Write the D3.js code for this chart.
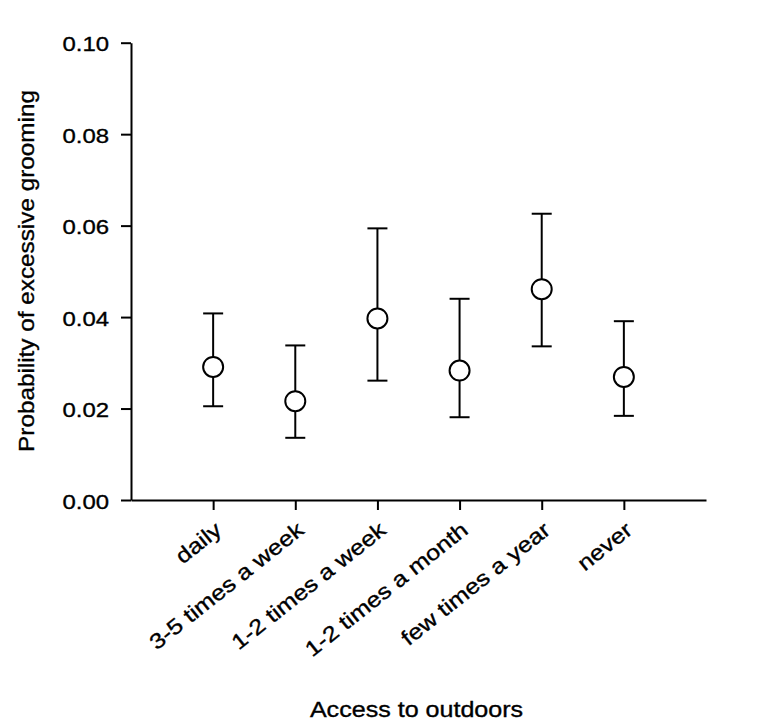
<!DOCTYPE html>
<html>
<head>
<meta charset="utf-8">
<script src="https://cdn.jsdelivr.net/npm/d3@7"></script>
<style>
  html, body { margin: 0; padding: 0; background: #fff; }
  svg { display: block; }
  text { font-family: "Liberation Sans", Arial, sans-serif; fill: #000; }
</style>
</head>
<body>
<svg id="chart" width="771" height="725"></svg>
<script>
// ---- data ----
const categories = ["daily", "3-5 times a week", "1-2 times a week", "1-2 times a month", "few times a year", "never"];
const means  = [0.0291, 0.0216, 0.0397, 0.0283, 0.0461, 0.0269];
const lowers = [0.0205, 0.0136, 0.0261, 0.0181, 0.0336, 0.0184];
const uppers = [0.0408, 0.0338, 0.0594, 0.0440, 0.0626, 0.0391];
const yTicks = [0.00, 0.02, 0.04, 0.06, 0.08, 0.10];
const yTitle = "Probability of excessive grooming";
const xTitle = "Access to outdoors";

// ---- layout ----
const svg = d3.select("#chart");
const plotLeft = 131, plotRight = 706, plotTop = 42.7, plotBottom = 500;
const sx = 1.14; // horizontal text stretch

const x = d3.scaleLinear().domain([0, categories.length + 1]).range([plotLeft, plotRight]);
const y = d3.scaleLinear().domain([0, 0.10]).range([plotBottom, plotTop]);

const textStroke = (sel) => sel.attr("stroke", "#000").attr("stroke-width", 0.35);

// y axis
const yAxis = svg.append("g")
  .attr("transform", `translate(${plotLeft},0)`)
  .call(d3.axisLeft(y).tickValues(yTicks).tickFormat(d3.format(".2f")).tickSize(10).tickSizeOuter(0));
yAxis.selectAll("path, line").attr("stroke", "#000").attr("stroke-width", 2);
yAxis.selectAll("text")
  .attr("x", null).attr("dy", null)
  .attr("transform", `translate(-22,8) scale(${sx},1)`)
  .attr("text-anchor", "end")
  .style("font-size", "21px")
  .style("font-family", "'Liberation Sans', Arial, sans-serif")
  .attr("fill", "#000")
  .call(textStroke);

// x axis
const xAxis = svg.append("g")
  .attr("transform", `translate(0,${plotBottom})`)
  .call(d3.axisBottom(x).tickValues(d3.range(1, categories.length + 1))
    .tickFormat((d) => categories[d - 1]).tickSize(10).tickSizeOuter(0));
xAxis.selectAll("path, line").attr("stroke", "#000").attr("stroke-width", 2);
xAxis.selectAll("text")
  .attr("y", null).attr("dy", null)
  .attr("transform", `translate(9.5,32.5) rotate(-38.5) scale(1.17,1)`)
  .attr("text-anchor", "end")
  .style("font-size", "21.5px")
  .style("font-family", "'Liberation Sans', Arial, sans-serif")
  .attr("fill", "#000")
  .call(textStroke);

// error bars
const g = svg.append("g");
const capW = 10;
categories.forEach((c, i) => {
  const cx = x(i + 1);
  g.append("line").attr("x1", cx).attr("x2", cx).attr("y1", y(lowers[i])).attr("y2", y(uppers[i]))
    .attr("stroke", "#000").attr("stroke-width", 2);
  g.append("line").attr("x1", cx - capW).attr("x2", cx + capW).attr("y1", y(uppers[i])).attr("y2", y(uppers[i]))
    .attr("stroke", "#000").attr("stroke-width", 2);
  g.append("line").attr("x1", cx - capW).attr("x2", cx + capW).attr("y1", y(lowers[i])).attr("y2", y(lowers[i]))
    .attr("stroke", "#000").attr("stroke-width", 2);
});
g.selectAll("circle").data(means).enter().append("circle")
  .attr("cx", (d, i) => x(i + 1))
  .attr("cy", (d) => y(d))
  .attr("r", 10)
  .attr("fill", "#fff")
  .attr("stroke", "#000")
  .attr("stroke-width", 2);

// titles
svg.append("text")
  .attr("transform", `translate(33.5,271) rotate(-90) scale(1.08,1)`)
  .attr("text-anchor", "middle")
  .style("font-size", "22.5px")
  .call(textStroke)
  .text(yTitle);
svg.append("text")
  .attr("transform", `translate(416.5,716.5) scale(${sx},1)`)
  .attr("text-anchor", "middle")
  .style("font-size", "22px")
  .call(textStroke)
  .text(xTitle);
</script>
</body>
</html>
